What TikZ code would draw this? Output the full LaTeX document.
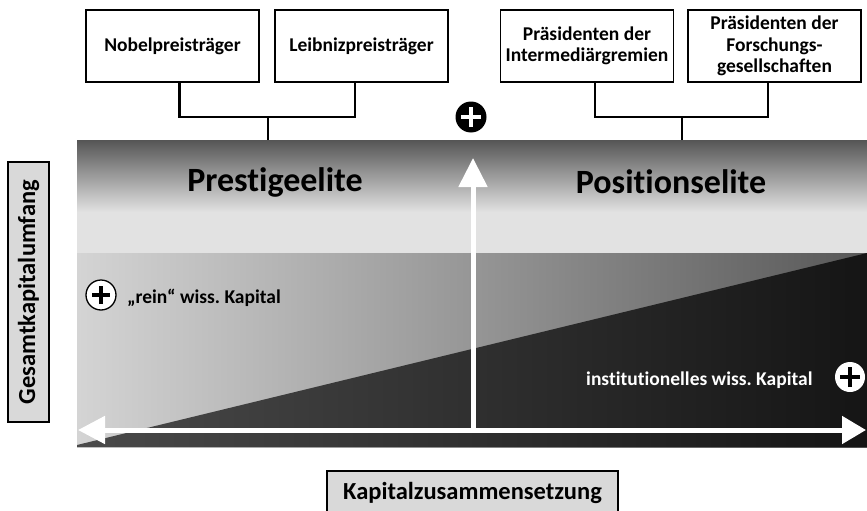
\documentclass[tikz,border=0pt]{standalone}
\usepackage{fontspec}
\setmainfont{Carlito}[RawFeature=-liga]
\usetikzlibrary{arrows.meta,calc}
\definecolor{topdark}{HTML}{555555}
\definecolor{toplight}{HTML}{E2E2E2}
\definecolor{midleft}{HTML}{D4D4D4}
\definecolor{midright}{HTML}{585858}
\definecolor{darkleft}{HTML}{4A4A4A}
\definecolor{darkright}{HTML}{151515}
\definecolor{labelgray}{HTML}{D9D9D9}
\frenchspacing
\begin{document}
\begin{tikzpicture}[x=1pt,y=-1pt,
  topbox/.style={draw=black,line width=1.8pt,fill=white,minimum width=173pt,minimum height=72pt,inner sep=2pt,align=center,font=\fontsize{19.5}{21.5}\selectfont\bfseries},
  conn/.style={line width=2.4pt,black},
  axislabel/.style={draw=black,line width=1.2pt,fill=labelgray,inner sep=0pt,font=\fontsize{24.5}{26}\selectfont\bfseries},
  elite/.style={font=\fontsize{34}{36}\selectfont\bfseries,inner sep=0pt},
  caplabel/.style={font=\fontsize{19.5}{21}\selectfont\bfseries,inner sep=0pt,anchor=west},
  whitearrow/.style={white,line width=5pt},
  plusarm/.style={line width=4.8pt}
]
\useasboundingbox (0,0) rectangle (867,511);
% background regions
\shade[top color=topdark,bottom color=toplight] (77,140) rectangle (867,212);
\fill[toplight] (77,211.5) rectangle (867,253);
\shade[left color=midleft,right color=midright] (77,253) rectangle (867,447);
\shade[left color=darkleft,right color=darkright] (77,447) -- (77,445) -- (867,253) -- (867,447) -- cycle;
\coordinate (stemL) at (268,140);
\coordinate (stemR) at (682,140);
% top boxes
\node[topbox] (nobel) at (172.5,46) {Nobelpreisträger};
\node[topbox] (leib) at (361.5,46) {Leibnizpreisträger};
\node[topbox] (inter) at (587,46) {Präsidenten der\\Intermediärgremien};
\node[topbox] (forsch) at (774.5,46) {Präsidenten der\\Forschungs-\\gesellschaften};
\coordinate (jL) at (268,117);
\coordinate (jR) at (682,117);
\draw[conn] ([xshift=7pt]nobel.south) |- (jL) -| ([xshift=-6.5pt]leib.south);
\draw[conn] (jL) -- (stemL);
\draw[conn] ([xshift=8pt]inter.south) |- (jR) -| ([xshift=-6.5pt]forsch.south);
\draw[conn] (jR) -- (stemR);
% titles
\node[elite] (prest) at (275,182) {Prestigeelite};
\node[elite] (posit) at (671,182) {Positionselite};
% arrows
\coordinate (hl) at (78,430);
\coordinate (hr) at (866,430);
\coordinate (origin) at (473,431);
\coordinate (vt) at (473,158);
\draw[whitearrow,{Triangle[length=27pt,width=27pt]}-{Triangle[length=24pt,width=27pt]}] (hl) -- (hr);
\draw[whitearrow,-{Triangle[length=29pt,width=28pt]}] (origin) -- (vt);
% top plus
\node[circle,fill=black,minimum size=31pt,inner sep=0pt] (ptop) at (471,117) {};
\draw[plusarm,white] ([xshift=-10pt]ptop.center) -- ([xshift=10pt]ptop.center);
\draw[plusarm,white] ([yshift=-10pt]ptop.center) -- ([yshift=10pt]ptop.center);
% rein plus
\node[circle,draw=black,line width=1.3pt,fill=white,minimum size=30pt,inner sep=0pt] (prein) at (101,295) {};
\draw[plusarm,black] ([xshift=-9pt]prein.center) -- ([xshift=9pt]prein.center);
\draw[plusarm,black] ([yshift=-9pt]prein.center) -- ([yshift=9pt]prein.center);
\node[caplabel] (rein) at (127,298) {„rein“ wiss. Kapital};
% institutionell plus
\node[circle,fill=white,minimum size=30pt,inner sep=0pt] (pinst) at (850,377) {};
\draw[plusarm,black] ([xshift=-10pt]pinst.center) -- ([xshift=10pt]pinst.center);
\draw[plusarm,black] ([yshift=-10pt]pinst.center) -- ([yshift=10pt]pinst.center);
\node[caplabel,white] (inst) at (586,380) {institutionelles wiss. Kapital};
% axis labels
\node[axislabel,rotate=90,minimum width=260pt,minimum height=41pt] (gesamt) at (28.5,292) {Gesamtkapitalumfang};
\node[axislabel,minimum width=291pt,minimum height=44pt] (kapz) at (472.5,493) {Kapitalzusammensetzung};
\end{tikzpicture}
\end{document}
